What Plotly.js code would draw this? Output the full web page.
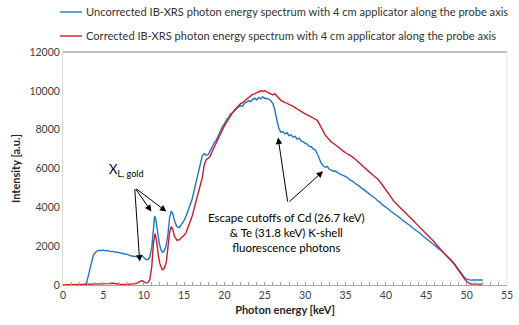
<!DOCTYPE html>
<html>
<head>
<meta charset="utf-8">
<script src="https://cdn.plot.ly/plotly-3.0.1.min.js"></script>
<style>html,body{margin:0;padding:0;background:#fff;}#chart{width:519px;height:325px;}</style>
</head>
<body>
<div id="chart"></div>
<script>
// Low-energy part (0 - 16.75 keV)
var blueLowEnergy = [0, 2.8, 3.0, 3.25, 3.5, 3.75, 4.0, 4.25, 4.5, 4.75, 5.0, 5.25, 5.5, 5.75, 6.0, 6.25, 6.5, 6.75, 7.0, 7.25, 7.5, 7.75, 8.0, 8.25, 8.5, 8.75, 9.0, 9.25, 9.5, 9.75, 10.0, 10.25, 10.5, 10.75, 11.0, 11.15, 11.35, 11.5, 11.7, 11.9, 12.1, 12.3, 12.5, 12.75, 13.0, 13.2, 13.4, 13.6, 13.85, 14.1, 14.4, 14.7, 15.0, 15.25, 15.5, 15.75, 16.0, 16.25, 16.5, 16.75];
var blueLowValues = [0, 0, 250, 700, 1200, 1520, 1680, 1760, 1790, 1770, 1800, 1760, 1770, 1730, 1720, 1730, 1680, 1690, 1650, 1640, 1610, 1600, 1550, 1540, 1490, 1480, 1440, 1440, 1470, 1530, 1420, 1320, 1300, 1430, 1950, 2800, 3550, 3380, 2700, 2200, 1850, 1690, 1720, 1980, 2600, 3450, 3800, 3680, 3250, 3020, 2960, 3120, 3330, 3550, 3820, 4120, 4430, 4870, 5280, 5730];

var redLowEnergy = [0, 1, 2, 3, 4, 5, 5.5, 5.75, 6.0, 6.25, 6.5, 7, 8, 8.5, 9.0, 9.25, 9.5, 9.75, 10.0, 10.25, 10.5, 10.75, 11.0, 11.2, 11.4, 11.6, 11.8, 12.0, 12.3, 12.55, 12.8, 13.0, 13.2, 13.4, 13.6, 13.8, 14.1, 14.4, 14.75, 15.0, 15.25, 15.5, 15.75, 16.0, 16.25, 16.5, 16.75];
var redLowValues = [0, 10, 0, 10, 20, 30, 40, 70, 100, 80, 50, 40, 30, 40, 70, 110, 180, 230, 180, 110, 120, 260, 950, 2150, 2650, 2250, 1550, 1100, 780, 860, 1180, 1800, 2700, 3010, 2870, 2520, 2310, 2330, 2450, 2560, 2700, 2960, 3250, 3550, 3950, 4320, 4700];

// High-energy part (17 - 52 keV), shared energy grid
var hiEnergy = [17, 17.25, 17.5, 17.75, 18, 18.25, 18.5, 18.75, 19, 19.25, 19.5, 19.75, 20, 20.25, 20.5, 20.75, 21, 21.25, 21.5, 21.75, 22, 22.25, 22.5, 22.75, 23, 23.25, 23.5, 23.75, 24, 24.25, 24.5, 24.75, 25, 25.25, 25.5, 25.75, 26, 26.25, 26.5, 26.75, 27, 27.25, 27.5, 27.75, 28, 28.25, 28.5, 28.75, 29, 29.25, 29.5, 29.75, 30, 30.25, 30.5, 30.75, 31, 31.25, 31.5, 31.75, 32, 32.25, 32.5, 32.75, 33, 33.25, 33.5, 33.75, 34, 34.25, 34.5, 34.75, 35, 35.25, 35.5, 35.75, 36, 36.25, 36.5, 36.75, 37, 37.25, 37.5, 37.75, 38, 38.25, 38.5, 38.75, 39, 39.25, 39.5, 39.75, 40, 40.25, 40.5, 40.75, 41, 41.25, 41.5, 41.75, 42, 42.25, 42.5, 42.75, 43, 43.25, 43.5, 43.75, 44, 44.25, 44.5, 44.75, 45, 45.25, 45.5, 45.75, 46, 46.25, 46.5, 46.75, 47, 47.25, 47.5, 47.75, 48, 48.25, 48.5, 48.75, 49, 49.25, 49.5, 49.75, 50, 50.25, 50.5, 50.75, 51, 51.25, 51.5, 51.75, 52];

var blueHiValues = [6150, 6650, 6760, 6680, 6720, 6950, 7120, 7330, 7460, 7720, 7880, 8160, 8300, 8520, 8610, 8820, 8860, 8990, 9080, 9180, 9230, 9210, 9370, 9420, 9510, 9440, 9560, 9620, 9530, 9660, 9590, 9690, 9610, 9620, 9540, 9490, 9340, 9000, 8480, 8050, 7860, 7900, 7780, 7840, 7690, 7730, 7610, 7660, 7510, 7560, 7410, 7380, 7300, 7260, 7140, 7120, 7000, 6960, 6760, 6480, 6260, 6130, 6060, 6100, 5960, 5920, 5860, 5870, 5790, 5720, 5680, 5640, 5570, 5530, 5420, 5380, 5290, 5230, 5130, 5080, 4990, 4920, 4830, 4760, 4660, 4600, 4500, 4440, 4330, 4270, 4150, 4090, 4000, 3930, 3840, 3770, 3690, 3620, 3520, 3450, 3360, 3290, 3200, 3130, 3050, 2960, 2890, 2800, 2720, 2650, 2550, 2480, 2400, 2310, 2230, 2140, 2060, 1960, 1880, 1790, 1710, 1620, 1520, 1430, 1330, 1210, 1080, 940, 800, 640, 490, 380, 300, 260, 250, 260, 255, 260, 255, 265, 260];

var redHiValues = [5050, 5520, 6200, 6460, 6530, 6640, 6900, 7130, 7360, 7540, 7760, 7990, 8210, 8380, 8560, 8730, 8880, 9010, 9130, 9220, 9340, 9390, 9510, 9580, 9660, 9730, 9820, 9840, 9920, 9940, 10010, 9970, 10010, 9940, 9890, 9860, 9790, 9850, 9740, 9610, 9500, 9460, 9390, 9370, 9290, 9260, 9190, 9160, 9060, 9010, 8950, 8860, 8810, 8760, 8690, 8660, 8600, 8540, 8480, 8300, 8080, 7860, 7710, 7600, 7460, 7360, 7300, 7210, 7110, 7040, 6960, 6880, 6810, 6760, 6700, 6620, 6550, 6450, 6360, 6260, 6160, 6070, 5990, 5900, 5800, 5720, 5640, 5540, 5450, 5330, 5200, 5060, 4900, 4750, 4600, 4440, 4300, 4200, 4100, 4000, 3900, 3820, 3710, 3600, 3480, 3380, 3270, 3160, 3060, 2950, 2850, 2750, 2660, 2550, 2430, 2320, 2210, 2090, 1960, 1840, 1720, 1610, 1500, 1400, 1300, 1190, 1060, 900, 740, 590, 440, 300, 180, 90, 50, 45, 50, 45, 50, 45, 45];

var seriesNames = [
  "Uncorrected IB-XRS photon energy spectrum with 4 cm applicator along the probe axis",
  "Corrected IB-XRS photon energy spectrum with 4 cm applicator along the probe axis"
];
var seriesColors = ["#1f77c9", "#c8202b"];
var xTitle = "Photon energy [keV]";
var yTitle = "Intensity [a.u.]";
var xTickVals = [0, 5, 10, 15, 20, 25, 30, 35, 40, 45, 50, 55];
var xTickText = ["0", "5", "10", "15", "20", "25", "30", "35", "40", "45", "50", "55"];
var yTickVals = [0, 2000, 4000, 6000, 8000, 10000, 12000];
var yTickText = ["0", "2000", "4000", "6000", "8000", "10000", "12000"];

var FONT = "Lato, 'Open Sans', sans-serif";

var traces = [
  {
    x: blueLowEnergy.concat(hiEnergy),
    y: blueLowValues.concat(blueHiValues),
    type: "scatter", mode: "lines",
    name: seriesNames[0], showlegend: false,
    line: {color: seriesColors[0], width: 1.4}
  },
  {
    x: redLowEnergy.concat(hiEnergy),
    y: redLowValues.concat(redHiValues),
    type: "scatter", mode: "lines",
    name: seriesNames[1], showlegend: false,
    line: {color: seriesColors[1], width: 1.4}
  }
];

function arrow(hx, hy, tx, ty) {
  return {x: hx, y: hy, ax: tx, ay: ty, xref: "x", yref: "y", axref: "x", ayref: "y",
          text: "", showarrow: true, arrowhead: 2, arrowsize: 1.3, arrowwidth: 1, arrowcolor: "#000"};
}

// legend rows (paper coordinates, top area above the plot)
var legendRowsY = [1.1717, 1.0687];
var legendShapes = [];
var legendTexts = [];
for (var i = 0; i < seriesNames.length; i++) {
  legendShapes.push({type: "line", xref: "paper", yref: "paper", x0: -0.0068, x1: 0.0428,
    y0: legendRowsY[i], y1: legendRowsY[i], line: {color: seriesColors[i], width: 1.4}});
  legendTexts.push({x: 0.0473, y: legendRowsY[i], xref: "paper", yref: "paper", xanchor: "left", yanchor: "middle",
    showarrow: false, text: seriesNames[i], font: {family: FONT, size: 11.1, color: "#333333"}});
}

var layout = {
  width: 519, height: 325,
  margin: {l: 63, r: 12, t: 52, b: 40},
  paper_bgcolor: "#fff", plot_bgcolor: "#fff",
  font: {family: FONT, size: 10, color: "#404040"},
  showlegend: false,
  xaxis: {
    range: [0, 55], tickvals: xTickVals, ticktext: xTickText, ticks: "inside", ticklen: 3, tickcolor: "#a6a6a6",
    minor: {dtick: 1, ticks: "inside", ticklen: 3, tickcolor: "#a6a6a6"},
    showline: true, linecolor: "#a6a6a6", linewidth: 1, showgrid: false, zeroline: false,
    tickfont: {family: FONT, size: 10.5, color: "#404040"},
    title: {text: xTitle, font: {family: FONT, size: 11, color: "#262626", weight: "bold"}, standoff: 6}
  },
  yaxis: {
    range: [0, 12000], tickvals: yTickVals, ticktext: yTickText, ticks: "", showgrid: false, zeroline: false,
    showline: true, linecolor: "#d9d9d9", linewidth: 1,
    tickfont: {family: FONT, size: 10.5, color: "#404040"},
    title: {text: yTitle, font: {family: FONT, size: 11, color: "#262626", weight: "bold"}, standoff: 6}
  },
  shapes: [
    {type: "line", xref: "paper", yref: "paper", x0: 0, x1: 1, y0: 1, y1: 1, line: {color: "#808080", width: 1}},
    {type: "line", xref: "paper", yref: "paper", x0: 1, x1: 1, y0: 0, y1: 1, line: {color: "#e0e0e0", width: 1}}
  ].concat(legendShapes),
  annotations: [
    {x: 5.41, y: 5943, xref: "x", yref: "y", xanchor: "left", yanchor: "middle", showarrow: false,
     text: "X<sub>L, gold</sub>", font: {family: FONT, size: 13, color: "#000"}},
    arrow(9.5, 1204, 8.88, 5013),
    arrow(10.95, 3788, 8.88, 5013),
    arrow(12.81, 3788, 8.88, 5013),
    {x: 27.72, y: 2687, xref: "x", yref: "y", xanchor: "center", yanchor: "middle", showarrow: false,
     text: "Escape cutoffs of Cd (26.7 keV)<br>& Te (31.8 keV) K-shell<br>fluorescence photons",
     font: {family: FONT, size: 11.5, color: "#000"}},
    arrow(26.64, 7597, 27.85, 4222),
    arrow(32.22, 5855, 27.85, 4222)
  ].concat(legendTexts)
};

Plotly.newPlot("chart", traces, layout, {displayModeBar: false, staticPlot: true});
</script>
</body>
</html>
